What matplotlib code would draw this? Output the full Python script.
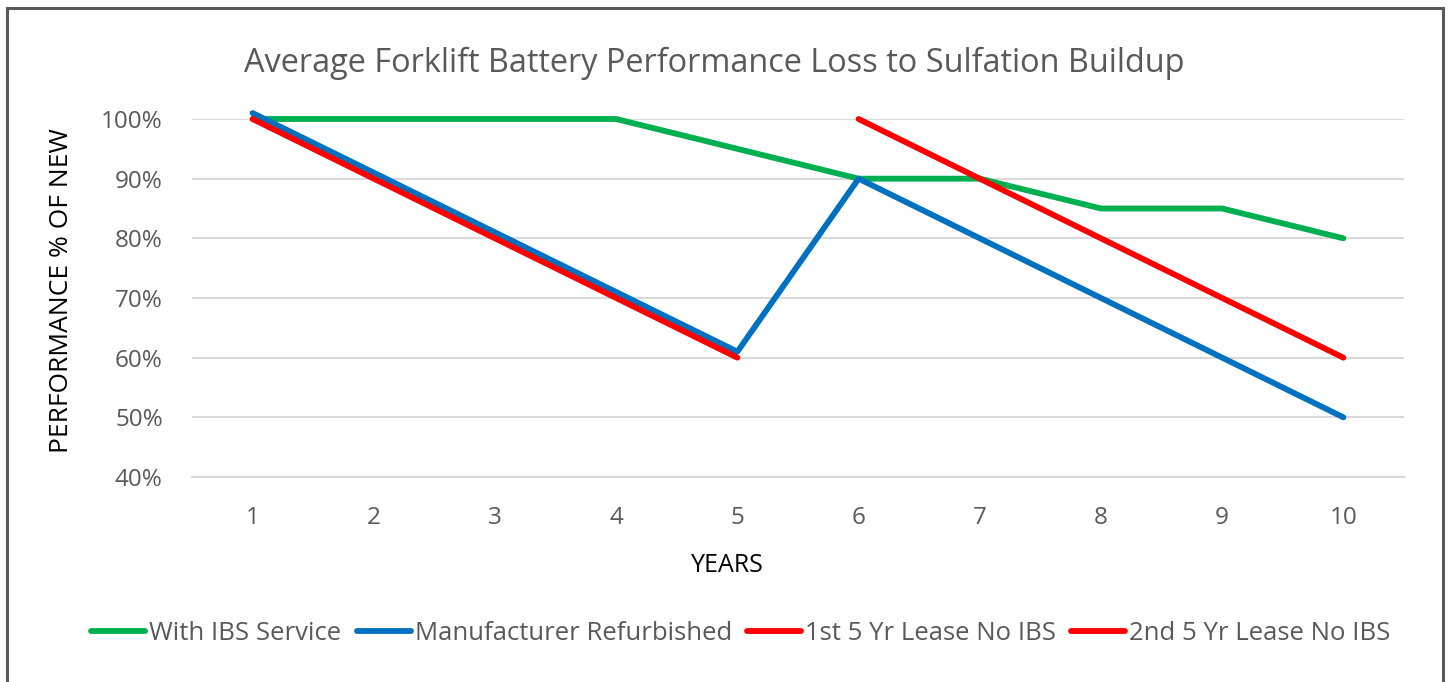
# Average forklift battery performance loss chart

import numpy as np
import matplotlib.pyplot as plt
from matplotlib.patches import Rectangle

plt.rcParams['font.family'] = ['Open Sans', 'DejaVu Sans']

# ==============================
# Data
# ==============================

years = [1, 2, 3, 4, 5, 6, 7, 8, 9, 10]
with_ibs = [1.00, 1.00, 1.00, 1.00, 0.95, 0.90, 0.90, 0.85, 0.85, 0.80]
refurbished = [1.01, 0.91, 0.81, 0.71, 0.61, 0.90, 0.80, 0.70, 0.60, 0.50]
lease_1st = [1.00, 0.90, 0.80, 0.70, 0.60, np.nan, np.nan, np.nan, np.nan, np.nan]
lease_2nd = [np.nan, np.nan, np.nan, np.nan, np.nan, 1.00, 0.90, 0.80, 0.70, 0.60]

series_names = ['With IBS Service', 'Manufacturer Refurbished',
                '1st 5 Yr Lease No IBS', '2nd 5 Yr Lease No IBS']
colors = ['#00b050', '#0070c0', '#ff0000', '#ff0000']

yticks = [0.4, 0.5, 0.6, 0.7, 0.8, 0.9, 1.0]
ytick_labels = ['40%', '50%', '60%', '70%', '80%', '90%', '100%']

# ==============================
# Plot
# ==============================

fig = plt.figure(figsize=(14.48, 6.82), dpi=100)
ax = fig.add_axes([0.1326, 0.3006, 0.837, 0.5249])

all_series = [with_ibs, refurbished, lease_1st, lease_2nd]
for vals, name, c in zip(all_series, series_names, colors):
    ax.plot(years, vals, color=c, lw=4.2, label=name,
            solid_capstyle='round', clip_on=False)

ax.set_xlim(0.5, 10.5)
ax.set_ylim(0.4, 1.0)
ax.set_xticks(years)
ax.set_xticklabels([str(y) for y in years])
ax.set_yticks(yticks)
ax.set_yticklabels(ytick_labels)

ax.grid(axis='y', color='#d9d9d9', lw=1.5)
ax.set_axisbelow(True)
for s in ['top', 'right', 'left']:
    ax.spines[s].set_visible(False)
ax.spines['bottom'].set_color('#d9d9d9')
ax.spines['bottom'].set_linewidth(1.5)
ax.tick_params(axis='both', length=0, labelsize=17.5, labelcolor='#595959')
ax.tick_params(axis='y', pad=21)
ax.tick_params(axis='x', pad=21)

fig.text(0.5 - 10 / 1448, 1 - 63 / 682, 'Average Forklift Battery Performance Loss to Sulfation Buildup',
         ha='center', va='center', fontsize=23.4, color='#595959')
fig.text(62 / 1448, 1 - 291 / 682, 'PERFORMANCE % OF NEW',
         rotation=90, ha='center', va='center', fontsize=19, color='black')
fig.text(727 / 1448, 1 - 566 / 682, 'YEARS',
         ha='center', va='center', fontsize=18, color='black')

fig.legend(loc='center', bbox_to_anchor=(741 / 1448, 1 - 633 / 682), ncol=4,
           frameon=False, fontsize=18.5, handlelength=2.1, handletextpad=0.15,
           columnspacing=0.6, labelcolor='#595959')

# Chart border
fig.patches.append(Rectangle((7 / 1448, -0.02), 1436 / 1448, 1.02 - 8 / 682,
                             transform=fig.transFigure, fill=False,
                             edgecolor='#595959', lw=2.2))

plt.savefig('out.png', dpi=100)
